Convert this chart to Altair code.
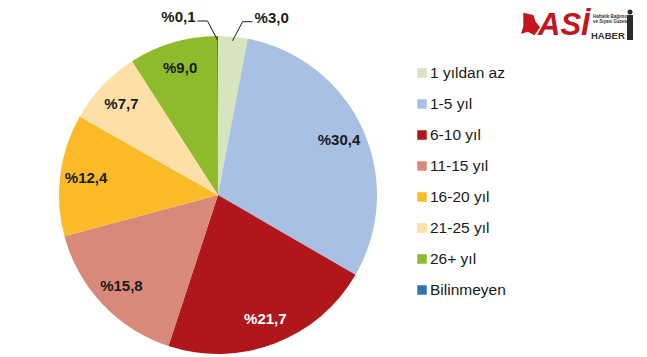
import altair as alt
import numpy as np
import pandas as pd

categories = ["1 yıldan az", "1-5 yıl", "6-10 yıl", "11-15 yıl", "16-20 yıl", "21-25 yıl", "26+ yıl", "Bilinmeyen"]
values = [3.0, 30.4, 21.7, 15.8, 12.4, 7.7, 9.0, 0.1]
labels = ["%3,0", "%30,4", "%21,7", "%15,8", "%12,4", "%7,7", "%9,0", "%0,1"]
colors = ["#D7E4BD", "#A7C0E4", "#B0171B", "#D9897A", "#FBBA27", "#FDDFA8", "#8DBB2C", "#2E75B6"]
outside = ["1 yıldan az", "Bilinmeyen"]

CX, CY, R = 218, 195, 159
FONT = "Liberation Sans"

df = pd.DataFrame({"cat": categories, "value": values, "label": labels, "idx": range(len(categories))})
df["inner"] = [("" if c in outside else l) for c, l in zip(df["cat"], df["label"])]

scale_color = alt.Scale(domain=categories, range=colors)

pie = alt.Chart(df).mark_arc(outerRadius=R).encode(
    theta=alt.Theta("value:Q", stack=True),
    color=alt.Color("cat:N", scale=scale_color, legend=None),
    order=alt.Order("idx:Q"),
    x=alt.value(CX), y=alt.value(CY),
)

inner = alt.Chart(df).mark_text(radius=133, font=FONT, fontWeight="bold", fontSize=15).encode(
    theta=alt.Theta("value:Q", stack=True),
    order=alt.Order("idx:Q"),
    text="inner:N",
    color=alt.condition(alt.datum.cat == "6-10 yıl", alt.value("white"), alt.value("#1a1a1a")),
    x=alt.value(CX), y=alt.value(CY),
)

# leader lines for small slices, computed from the slice mid-angles
total = sum(values)
cum = np.cumsum([0] + values)
rows, trows = [], []
for i, c in enumerate(categories):
    if c not in outside:
        continue
    mid = (cum[i] + values[i] / 2) / total * 2 * np.pi
    side = 1 if np.sin(mid) > 0 else -1
    x0 = CX + 155 * np.sin(mid)
    y0 = CY - 155 * np.cos(mid)
    x1, y1 = x0 + side * 10, y0 - 19
    x2, y2 = x1 + side * 10, y1
    for s, (px, py) in enumerate([(x0, y0), (x1, y1), (x2, y2)]):
        rows.append({"cat": c, "step": s, "px": px, "py": py})
    trows.append({"label": labels[i], "px": x2 + side * 2, "py": y2 - 4, "side": side})
lead = pd.DataFrame(rows)
tdf = pd.DataFrame(trows)

lines = alt.Chart(lead).mark_line(color="#1a1a1a", strokeWidth=1).encode(
    x=alt.X("px:Q", scale=None), y=alt.Y("py:Q", scale=None),
    detail="cat:N", order="step:Q",
)
out_right = alt.Chart(tdf[tdf.side > 0]).mark_text(align="left", baseline="middle", font=FONT, fontWeight="bold", fontSize=15, color="#1a1a1a").encode(
    x=alt.X("px:Q", scale=None), y=alt.Y("py:Q", scale=None), text="label:N")
out_left = alt.Chart(tdf[tdf.side < 0]).mark_text(align="right", baseline="middle", font=FONT, fontWeight="bold", fontSize=15, color="#1a1a1a").encode(
    x=alt.X("px:Q", scale=None), y=alt.Y("py:Q", scale=None), text="label:N")

# legend
leg_base = alt.Chart(df).transform_calculate(ly="73 + 31 * datum.idx")
leg_sym = leg_base.mark_square(size=90, opacity=1).encode(
    x=alt.value(422), y=alt.Y("ly:Q", scale=None),
    color=alt.Color("cat:N", scale=scale_color, legend=None),
)
leg_txt = leg_base.mark_text(align="left", baseline="middle", font=FONT, fontSize=15.5, color="#1a1a1a").encode(
    x=alt.value(430), y=alt.Y("ly:Q", scale=None), text="cat:N",
)

# logo (decorative)
logo_df = pd.DataFrame({"t": ["ASİ"]})
logo = alt.Chart(logo_df).mark_text(align="left", baseline="alphabetic", font=FONT, fontWeight="bold", fontStyle="italic", fontSize=31, color="#C4161C").encode(
    x=alt.value(538), y=alt.value(35), text="t:N")
blob = alt.Chart(logo_df).mark_point(shape="M-0.6,-1L0.3,-0.8L0.5,-0.2L0.9,0.3L0.4,1L-0.2,0.7L-0.8,0.9L-0.6,0.2Z", filled=True, size=500, opacity=1, color="#C4161C").encode(
    x=alt.value(530), y=alt.value(24))
haber = alt.Chart(pd.DataFrame({"t": ["HABER"]})).mark_text(align="left", baseline="alphabetic", font=FONT, fontWeight="bold", fontSize=9.5, color="#333333").encode(
    x=alt.value(591), y=alt.value(39), text="t:N")
tiny = alt.Chart(pd.DataFrame({"t": ["Haftalık Bağımsız", "ve Siyasi Gazete"], "k": [0, 1]})).transform_calculate(ty="17 + 5 * datum.k").mark_text(
    align="left", baseline="middle", font=FONT, fontWeight="bold", fontSize=4.5, color="#333333").encode(
    x=alt.value(593), y=alt.Y("ty:Q", scale=None), text="t:N")
man_body = alt.Chart(logo_df).mark_rect(color="#2b2b2b").encode(
    x=alt.value(627), x2=alt.value(633), y=alt.value(15), y2=alt.value(40))
man_head = alt.Chart(logo_df).mark_point(shape="circle", filled=True, size=25, opacity=1, color="#2b2b2b").encode(
    x=alt.value(630), y=alt.value(12))

chart = alt.layer(
    pie, inner, lines, out_right, out_left, leg_sym, leg_txt, blob, logo, haber, tiny, man_body, man_head
).properties(
    width=647, height=357, padding=0, background="white",
    autosize=alt.AutoSizeParams(type="none"),
).configure_view(stroke=None)

chart.save("out.html", embed_options={"renderer": "svg", "actions": False})
